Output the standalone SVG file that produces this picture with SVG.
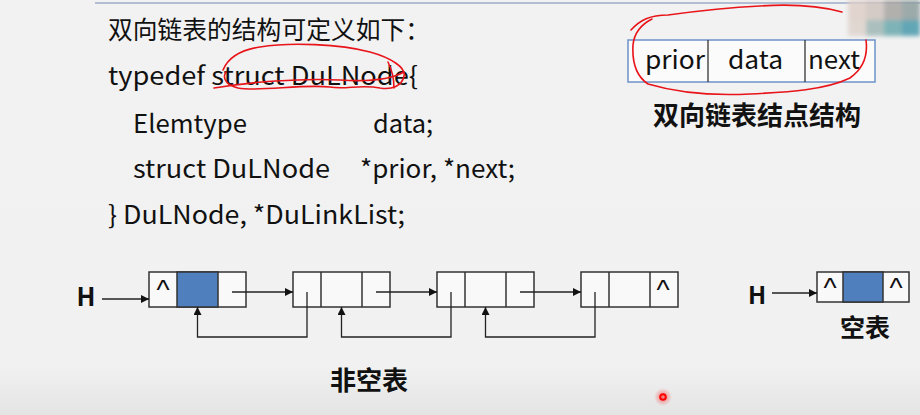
<svg xmlns="http://www.w3.org/2000/svg" width="920" height="415" viewBox="0 0 920 415">
<defs>
<linearGradient id="bg" x1="0" y1="0" x2="0" y2="1">
<stop offset="0" stop-color="#f2f2f2"/>
<stop offset="0.88" stop-color="#f1f1f1"/>
<stop offset="1" stop-color="#e4e4e4"/>
</linearGradient>
<radialGradient id="dot">
<stop offset="0" stop-color="#ff0000" stop-opacity="0.5"/>
<stop offset="1" stop-color="#ff0000" stop-opacity="0"/>
</radialGradient>
<marker id="ah" viewBox="0 0 10 10" refX="10" refY="5" markerWidth="8" markerHeight="8" markerUnits="userSpaceOnUse" orient="auto">
<path d="M0,0 L10,5 L0,10 z" fill="#111"/>
</marker>
<filter id="blur"><feGaussianBlur stdDeviation="2"/></filter>
</defs>
<style>
.code{font-family:"Noto Sans CJK SC","Microsoft YaHei","Noto Sans",sans-serif;font-size:25px;fill:#111}
.bold{font-family:"Noto Sans CJK SC","Noto Sans",sans-serif;font-weight:bold;fill:#111}
.cell{fill:#f9f9f9;stroke:#333;stroke-width:1.5}
.blue{fill:#4f7fbd;stroke:#333;stroke-width:1.5}
.caret{font-family:"Liberation Sans",sans-serif;font-size:28px;fill:#111;text-anchor:middle}
.link{fill:none;stroke:#222;stroke-width:1.3}
.red{fill:none;stroke:#e8141a;stroke-width:1.6;stroke-linecap:round;stroke-linejoin:round}
</style>
<rect x="0" y="0" width="920" height="415" fill="url(#bg)"/>
<line x1="95" y1="3" x2="920" y2="3" stroke="#9aabc9" stroke-width="1.5"/>

<g id="mosaic" filter="url(#blur)" opacity="0.85">
<rect x="848" y="0" width="18" height="20" fill="#dfcfc8"/>
<rect x="866" y="0" width="18" height="20" fill="#d0c5bf"/>
<rect x="884" y="0" width="18" height="20" fill="#a8a5a2"/>
<rect x="902" y="0" width="18" height="20" fill="#8e9e9e"/>
<rect x="848" y="20" width="18" height="16" fill="#ddd3cc"/>
<rect x="866" y="20" width="18" height="16" fill="#9fb8b6"/>
<rect x="884" y="20" width="18" height="16" fill="#6aa9ad"/>
<rect x="902" y="20" width="18" height="16" fill="#4a9aab"/>
</g>

<g id="code">
<text class="code" x="108" y="39" textLength="322" lengthAdjust="spacingAndGlyphs">双向链表的结构可定义如下：</text>
<text class="code" x="108" y="85" textLength="310" lengthAdjust="spacingAndGlyphs">typedef struct DuLNode{</text>
<text class="code" x="133" y="133" textLength="114" lengthAdjust="spacingAndGlyphs">Elemtype</text>
<text class="code" x="373" y="133" textLength="60" lengthAdjust="spacingAndGlyphs">data;</text>
<text class="code" x="133" y="178" textLength="197" lengthAdjust="spacingAndGlyphs">struct DuLNode</text>
<text class="code" x="360" y="178" textLength="155" lengthAdjust="spacingAndGlyphs">*prior, *next;</text>
<text class="code" x="108" y="224" textLength="297" lengthAdjust="spacingAndGlyphs">} DuLNode, *DuLinkList;</text>
</g>

<g id="node-struct">
<rect x="628" y="40" width="247" height="42" fill="#fbfbfb" stroke="#6f93c8" stroke-width="1.5"/>
<line x1="708" y1="40" x2="708" y2="82" stroke="#333" stroke-width="1.3"/>
<line x1="805" y1="40" x2="805" y2="82" stroke="#333" stroke-width="1.3"/>
<text class="code" x="645" y="69" textLength="60" lengthAdjust="spacingAndGlyphs">prior</text>
<text class="code" x="728" y="69" textLength="55" lengthAdjust="spacingAndGlyphs">data</text>
<text class="code" x="808" y="69" textLength="52" lengthAdjust="spacingAndGlyphs">next</text>
<text class="bold" x="757" y="125" font-size="26" text-anchor="middle">双向链表结点结构</text>
</g>

<g id="n1">
<rect class="cell" x="149" y="272" width="97" height="35"/>
<rect class="blue" x="177" y="272" width="41" height="35"/>
<text class="caret" x="163" y="299">^</text>
</g>
<g id="n2">
<rect class="cell" x="293" y="272" width="97" height="35"/>
<line x1="321" y1="272" x2="321" y2="307" stroke="#333" stroke-width="1.5"/>
<line x1="362" y1="272" x2="362" y2="307" stroke="#333" stroke-width="1.5"/>
</g>
<g id="n3">
<rect class="cell" x="437" y="272" width="97" height="35"/>
<line x1="465" y1="272" x2="465" y2="307" stroke="#333" stroke-width="1.5"/>
<line x1="506" y1="272" x2="506" y2="307" stroke="#333" stroke-width="1.5"/>
</g>
<g id="n4">
<rect class="cell" x="581" y="272" width="97" height="35"/>
<line x1="609" y1="272" x2="609" y2="307" stroke="#333" stroke-width="1.5"/>
<line x1="650" y1="272" x2="650" y2="307" stroke="#333" stroke-width="1.5"/>
<text class="caret" x="663" y="299">^</text>
</g>
<g id="empty">
<rect class="cell" x="817" y="272" width="92" height="30"/>
<rect class="blue" x="843" y="272" width="40" height="30"/>
<text class="caret" x="830" y="297" font-size="25">^</text>
<text class="caret" x="896" y="297" font-size="25">^</text>
</g>

<g id="labels">
<text class="bold" x="86" y="306" font-size="25" text-anchor="middle" font-family="Liberation Sans,sans-serif">H</text>
<text class="bold" x="757" y="304" font-size="24" text-anchor="middle" font-family="Liberation Sans,sans-serif">H</text>
<text class="bold" x="369" y="390" font-size="26" text-anchor="middle">非空表</text>
<text class="bold" x="865" y="337" font-size="25" text-anchor="middle">空表</text>
</g>

<g id="connectors">
<line class="link" x1="102" y1="299" x2="149" y2="299" marker-end="url(#ah)"/>
<line class="link" x1="772" y1="293" x2="817" y2="293" marker-end="url(#ah)"/>
<line class="link" x1="232" y1="292" x2="293" y2="292" marker-end="url(#ah)"/>
<line class="link" x1="376" y1="292" x2="437" y2="292" marker-end="url(#ah)"/>
<line class="link" x1="520" y1="292" x2="581" y2="292" marker-end="url(#ah)"/>
<polyline class="link" points="307,292 307,337 197.5,337 197.5,307" marker-end="url(#ah)"/>
<polyline class="link" points="451,292 451,337 341.5,337 341.5,307" marker-end="url(#ah)"/>
<polyline class="link" points="595,292 595,337 485.5,337 485.5,307" marker-end="url(#ah)"/>
</g>

<g id="annotations">
<path class="red" d="M223,70 C228,58 240,50 260,47 C290,42 340,44 370,52 C392,58 406,68 404,76 C402,86 392,90 380,88 C360,84 345,90 330,87 C300,84 260,92 238,88 C226,85 222,78 226,72"/>
<path class="red" d="M214,88 C250,82 300,78 340,80 C370,82 390,80 404,72"/>
<path class="red" d="M388,62 C392,70 394,80 394,88"/>
<path class="red" d="M631,30 C640,20 650,15 668,15 C690,12 720,8 760,6 C790,4 820,6 842,12 M866,40 C868,55 864,68 850,78 C825,90 790,92 750,94 C710,96 675,92 648,84 C636,76 632,62 633,45 C634,35 640,25 652,19"/>
<circle cx="663" cy="397" r="9" fill="url(#dot)"/>
<circle cx="663" cy="397" r="2.8" fill="none" stroke="#ff0000" stroke-width="2"/>
</g>
</svg>
